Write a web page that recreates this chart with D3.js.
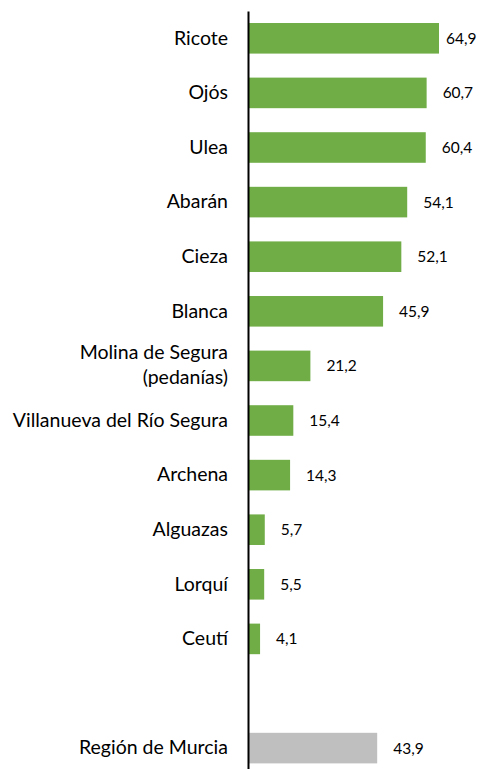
<!DOCTYPE html>
<html>
<head>
<meta charset="utf-8">
<script src="https://cdn.jsdelivr.net/npm/d3@7"></script>
<style>
  body { margin: 0; background: #fff; }
  svg { display: block; }
</style>
</head>
<body>
<script>
var width = 483, height = 769;

var municipios = ["Ricote", "Ojós", "Ulea", "Abarán", "Cieza", "Blanca",
    "Molina de Segura (pedanías)", "Villanueva del Río Segura", "Archena",
    "Alguazas", "Lorquí", "Ceutí"];
var valores = [64.9, 60.7, 60.4, 54.1, 52.1, 45.9, 21.2, 15.4, 14.3, 5.7, 5.5, 4.1];
var region = ["Región de Murcia"];
var valorRegion = [43.9];

var data = municipios.map(function(d, i) { return {name: d, value: valores[i], color: "#70ad47"}; });
data.push({name: " ", value: null});   // hueco antes de la región
region.forEach(function(d, i) { data.push({name: d, value: valorRegion[i], color: "#bfbfbf"}); });

var svg = d3.select("body").append("svg")
    .attr("width", width)
    .attr("height", height);

var x = d3.scaleLinear()
    .domain([0, 70])
    .range([248, 454]);

var y = d3.scaleBand()
    .domain(data.map(function(d) { return d.name; }))
    .range([11, 775.4])
    .paddingInner(0.44)
    .paddingOuter(0.22);

svg.selectAll(".bar")
    .data(data.filter(function(d) { return d.value !== null; }))
    .enter().append("rect")
    .attr("class", "bar")
    .attr("x", x(0))
    .attr("y", function(d) { return y(d.name); })
    .attr("width", function(d) { return x(d.value) - x(0); })
    .attr("height", y.bandwidth())
    .style("fill", function(d) { return d.color; });

// etiquetas de valor
svg.selectAll(".val")
    .data(data.filter(function(d) { return d.value !== null; }))
    .enter().append("text")
    .attr("class", "val")
    .attr("x", function(d) { return Math.min(x(d.value) + 16, width - 37); })
    .attr("y", function(d) { return y(d.name) + y.bandwidth() / 2; })
    .attr("dy", "0.35em")
    .style("font-family", "Lato, sans-serif")
    .style("font-size", "15.5px")
    .style("fill", "#000")
    .text(function(d) { return d3.format(".1f")(d.value).replace(".", ","); });

var axis = svg.append("g")
    .attr("transform", "translate(" + x(0) + ",0)")
    .call(d3.axisLeft(y).tickSize(0).tickPadding(20));

axis.select(".domain")
    .attr("stroke", "#000")
    .attr("stroke-width", 2);

axis.selectAll("text")
    .style("font-family", "Lato, sans-serif")
    .style("font-size", "19.5px")
    .style("fill", "#000")
    .each(function(d) {
        var parts = d.split(" (");
        if (parts.length > 1) {
            var t = d3.select(this).text(null).attr("dy", null);
            t.append("tspan").attr("x", -20).attr("dy", "-0.33em").text(parts[0]);
            t.append("tspan").attr("x", -20).attr("dy", "1.28em").text("(" + parts[1]);
        }
    });
</script>
</body>
</html>
